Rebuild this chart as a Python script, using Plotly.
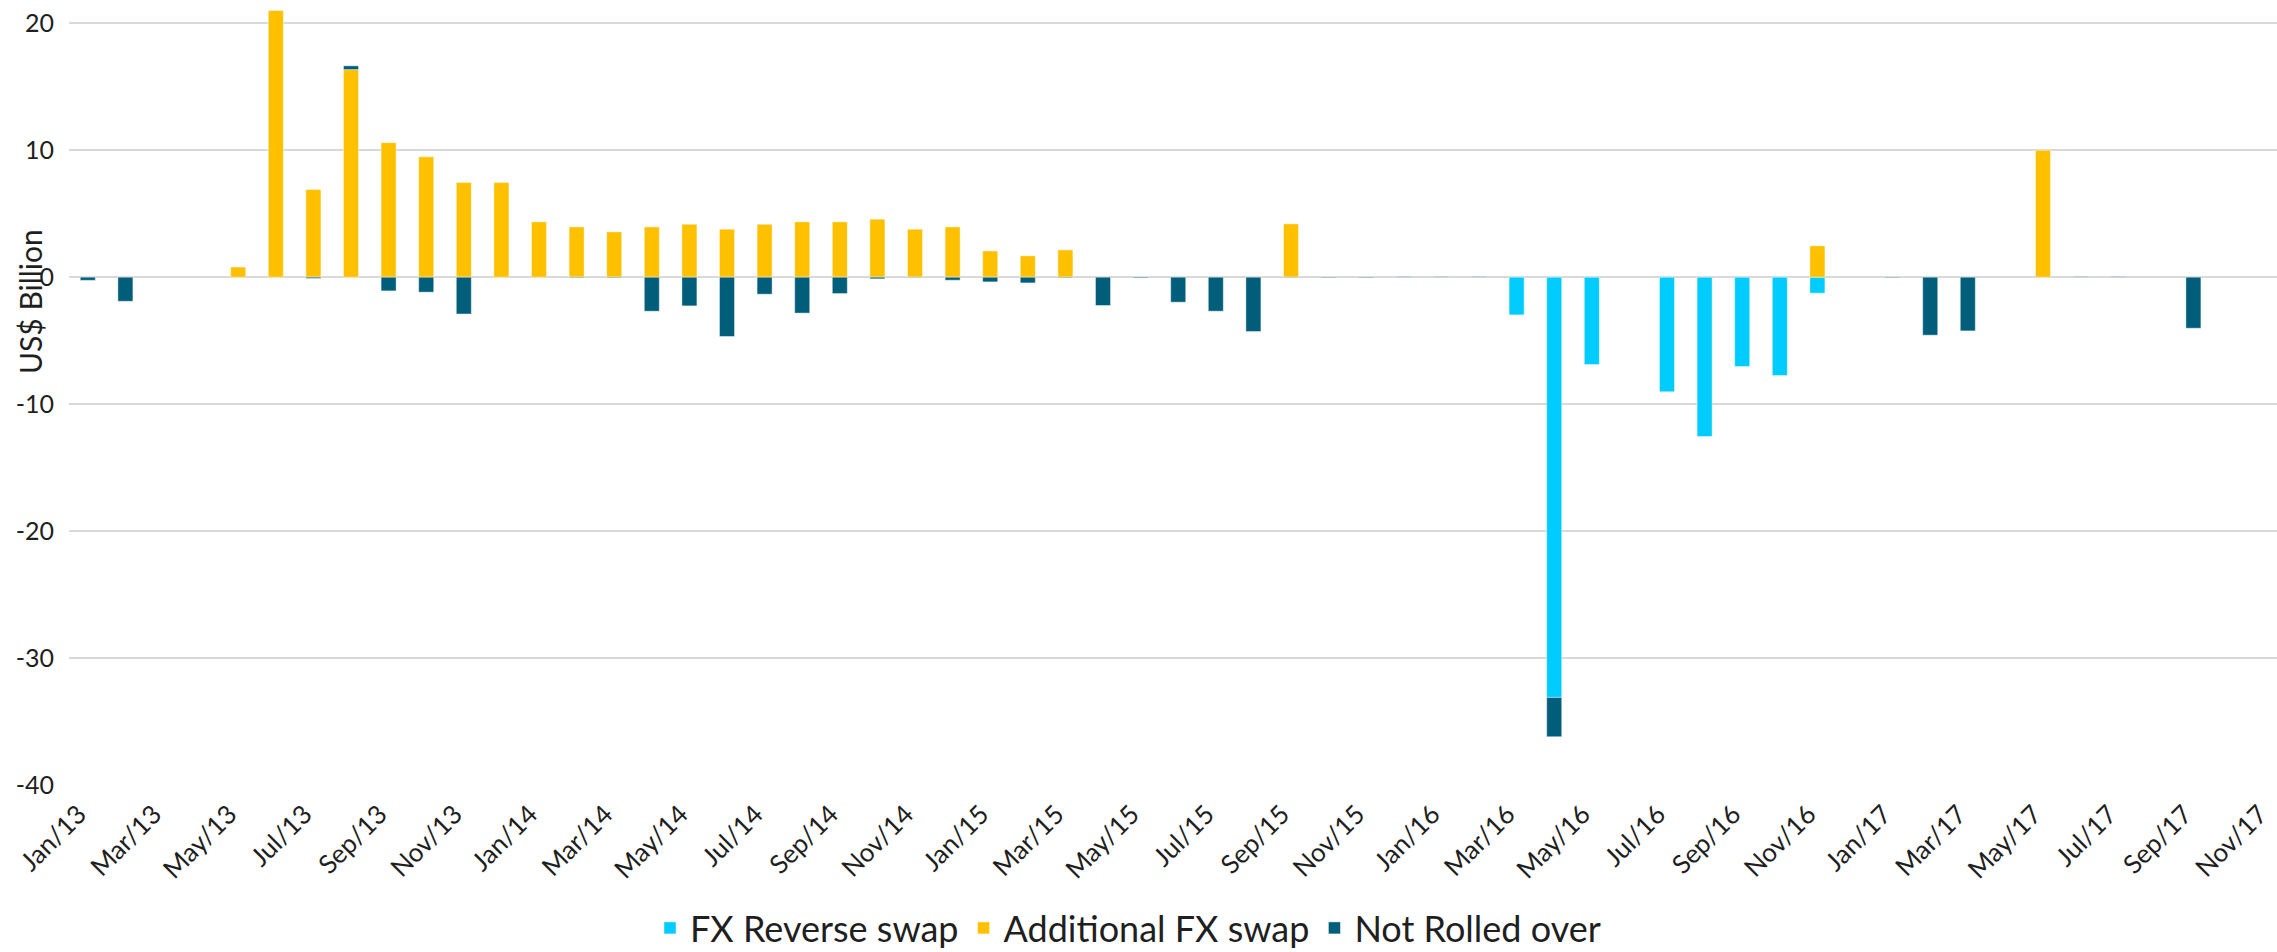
import plotly.graph_objects as go

# Monthly categories, Jan/13 .. Nov/17
months = [
    "Jan/13", "Feb/13", "Mar/13", "Apr/13", "May/13", "Jun/13", "Jul/13", "Aug/13", "Sep/13", "Oct/13", "Nov/13", "Dec/13",
    "Jan/14", "Feb/14", "Mar/14", "Apr/14", "May/14", "Jun/14", "Jul/14", "Aug/14", "Sep/14", "Oct/14", "Nov/14", "Dec/14",
    "Jan/15", "Feb/15", "Mar/15", "Apr/15", "May/15", "Jun/15", "Jul/15", "Aug/15", "Sep/15", "Oct/15", "Nov/15", "Dec/15",
    "Jan/16", "Feb/16", "Mar/16", "Apr/16", "May/16", "Jun/16", "Jul/16", "Aug/16", "Sep/16", "Oct/16", "Nov/16", "Dec/16",
    "Jan/17", "Feb/17", "Mar/17", "Apr/17", "May/17", "Jun/17", "Jul/17", "Aug/17", "Sep/17", "Oct/17", "Nov/17",
]

# US$ billion per month
fx_reverse_swap = [
    0, 0, 0, 0, 0, 0, 0, 0, 0, 0, 0, 0,
    0, 0, 0, 0, 0, 0, 0, 0, 0, 0, 0, 0,
    0, 0, 0, 0, 0, 0, 0, 0, 0, 0, 0, 0,
    0, 0, -2.97, -33.1, -6.88, 0, -9.03, -12.55, -7.03, -7.74, -1.26, 0,
    0, 0, 0, 0, 0, 0, 0, 0, 0, 0, 0,
]

additional_fx_swap = [
    0, 0, 0, 0, 0.8, 21.0, 6.9, 16.35, 10.6, 9.48, 7.45, 7.45,
    4.36, 3.96, 3.57, 3.96, 4.17, 3.78, 4.17, 4.36, 4.36, 4.57, 3.78, 3.96,
    2.07, 1.68, 2.15, 0, 0, 0, 0, 0, 4.2, 0, 0, 0,
    0, 0, 0, 0, 0, 0, 0, 0, 0, 0, 2.47, 0,
    0, 0, 0, 0, 10.0, 0, 0, 0, 0, 0, 0,
]

not_rolled_over = [
    -0.25, -1.9, 0, 0, 0, 0, -0.1, 0.3, -1.08, -1.18, -2.9, 0,
    0, -0.05, -0.05, -2.68, -2.26, -4.67, -1.34, -2.83, -1.29, -0.13, -0.04, -0.24,
    -0.37, -0.45, -0.05, -2.23, -0.06, -1.97, -2.68, -4.28, -0.04, -0.05, -0.05, 0.05,
    0.05, 0.05, 0, -3.1, 0, 0, 0, 0, 0, 0, 0, 0,
    -0.05, -4.57, -4.23, 0, 0, 0.05, 0.05, 0, -4.02, 0, 0,
]

tick_labels = months[::2]

series = [
    ("FX Reverse swap", fx_reverse_swap, "#00CCFF"),
    ("Additional FX swap", additional_fx_swap, "#FFC000"),
    ("Not Rolled over", not_rolled_over, "#005E7A"),
]

W, H = 2277, 952
ML, MR, MT, MB = 69, 0, 0, 167
FONT = "Lato, Arial, sans-serif"
TEXT = "#1f1f1f"

fig = go.Figure()
for name, vals, color in series:
    fig.add_trace(go.Bar(
        x=months,
        y=[v if v != 0 else None for v in vals],
        name=name,
        marker=dict(color=color, line=dict(color="rgba(255,255,255,0.45)", width=1)),
        width=0.4,
    ))

plot_w = W - ML - MR
plot_h = H - MB - MT
slot_px = 37.6
x_max = -0.5 + plot_w / slot_px

fig.update_layout(
    width=W,
    height=H,
    margin=dict(l=ML, r=MR, t=MT, b=MB, pad=0, autoexpand=False),
    barmode="relative",
    plot_bgcolor="white",
    paper_bgcolor="white",
    font=dict(family=FONT, color=TEXT, size=24),
    showlegend=True,
    legend=dict(
        orientation="h",
        x=(1128 - ML) / plot_w,
        xanchor="center",
        y=-(928 - plot_h) / plot_h,
        yanchor="middle",
        font=dict(size=36, family=FONT, color=TEXT),
        itemwidth=30,
        traceorder="normal",
    ),
    xaxis=dict(
        type="category",
        categoryorder="array",
        categoryarray=months,
        range=[-0.5, x_max],
        tickmode="array",
        tickvals=tick_labels,
        ticktext=tick_labels,
        tickangle=-45,
        tickfont=dict(size=26, family=FONT, color=TEXT),
        ticklabelstandoff=8,
        ticklabelshift=-9,
        automargin=False,
        showgrid=False,
        showline=False,
        ticks="",
        zeroline=False,
        fixedrange=True,
    ),
    yaxis=dict(
        range=[-40, 277.3 / 12.7],
        tickmode="array",
        tickvals=[20, 10, 0, -10, -20, -30, -40],
        ticktext=["20", "10", "0", "-10", "-20", "-30", "-40"],
        tickfont=dict(size=25, family=FONT, color=TEXT),
        automargin=False,
        showgrid=True,
        gridcolor="#D9D9D9",
        gridwidth=2,
        zeroline=True,
        zerolinecolor="#D9D9D9",
        zerolinewidth=2,
        showline=False,
        ticks="",
        ticklabelstandoff=14,
    ),
    annotations=[
        dict(
            text="US$ Billion",
            textangle=-90,
            xref="paper",
            yref="paper",
            x=(30 - ML) / plot_w,
            y=1 - 302 / plot_h,
            xanchor="center",
            yanchor="middle",
            showarrow=False,
            font=dict(size=30, family=FONT, color=TEXT),
        )
    ],
)

fig.write_html("out.html")
